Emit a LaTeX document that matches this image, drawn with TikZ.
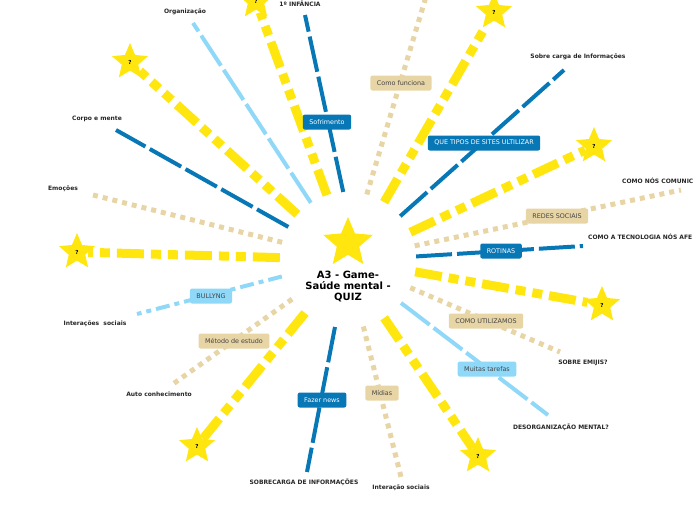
\documentclass[tikz,border=0pt]{standalone}
\usepackage{fontspec}
\setmainfont{DejaVu Sans}
\usetikzlibrary{shapes.geometric}

\begin{document}
\begin{tikzpicture}[x=1pt, y=-1pt,
    topic/.style={rounded corners=2pt, minimum height=15pt, inner xsep=6.5pt,
                  inner ysep=0pt, font=\fontsize{6.4}{7}\selectfont},
    dkbox/.style={topic, fill=dkblue, text=white},
    ltbox/.style={topic, fill=ltblue, text=txt},
    bgbox/.style={topic, fill=beige, text=txt},
    leaf/.style={font=\bfseries\fontsize{6}{7}\selectfont, text=black!85},
    qstar/.style={star, star points=5, star point ratio=2.2, fill=ylw,
                  minimum size=38pt, inner sep=0pt, font=\bfseries\fontsize{5.5}{6}\selectfont},
    dkline/.style={draw=dkblue, line width=4pt, dash pattern=on 36pt off 5pt},
    ltline/.style={draw=ltblue, line width=4pt, dash pattern=on 36pt off 5pt},
    ylline/.style={draw=ylw, line width=9pt, dash pattern=on 27pt off 7pt on 10pt off 7pt on 10pt off 7pt},
    bgline/.style={draw=beige, line width=5pt, dash pattern=on 5pt off 5pt},
]

% Colors
\definecolor{dkblue}{HTML}{0777B6}
\definecolor{ltblue}{HTML}{8FD8F8}
\definecolor{ylw}{HTML}{FFE60F}
\definecolor{beige}{HTML}{E8D5A6}
\definecolor{txt}{HTML}{444444}

\clip (0,0) rectangle (696,520);

% === Centre ===
\node[circle, minimum size=136pt, inner sep=0pt] (hub) at (348,260) {};
\node[star, star points=5, star point ratio=2.2, fill=ylw, minimum size=52pt,
      inner sep=0pt] (mainstar) at (348,243) {};
\node[font=\bfseries\fontsize{10}{11}\selectfont, align=center] (title) at (348,287)
     {A3 - Game-\\Saúde mental -\\QUIZ};

% === End points ===
\coordinate (e1)  at (305,15);
\coordinate (e3)  at (193,23);
\coordinate (e5)  at (116,130);
\coordinate (e6)  at (93,195);
\coordinate (e8)  at (137,314);
\coordinate (e9)  at (173,384);
\coordinate (e11) at (307,472);
\coordinate (e12) at (401,477);
\coordinate (e14) at (548,415);
\coordinate (e15) at (560,352);
\coordinate (e17) at (583,246);
\coordinate (e18) at (681,190);
\coordinate (e20) at (564,70);
\coordinate (e22) at (428,-10);

% === Stars ===
\node[qstar] (s2)  at (256,1)   {?};
\node[qstar] (s4)  at (130,62)  {?};
\node[qstar] (s7)  at (77,252)  {?};
\node[qstar] (s10) at (197,446) {?};
\node[qstar] (s13) at (478,456) {?};
\node[qstar] (s16) at (602,305) {?};
\node[qstar] (s19) at (594,146) {?};
\node[qstar] (s21) at (494,12)  {?};

% === Spokes ===
\draw[dkline] (hub.94)    -- (e1);
\draw[ylline] (hub.108.4) -- (s2);
\draw[ltline] (hub.123.7) -- (e3);
\draw[ylline] (hub.138.6) -- (s4);
\draw[dkline] (hub.151.9) -- (e5);
\draw[bgline] (hub.165.3) -- (e6);
\draw[ylline] (hub.178.3) -- (s7);
\draw[ltline, dash pattern=on 14pt off 5pt on 5pt off 5pt] (hub.194.7) -- (e8);
\draw[bgline] (hub.215.3) -- (e9);
\draw[ylline] (hub.231.7) -- (s10);
\draw[dkline] (hub.259.2) -- (e11);
\draw[bgline] (hub.283.4) -- (e12);
\draw[ylline] (hub.302.3) -- (s13);
\draw[ltline] (hub.321.5) -- (e14);
\draw[bgline] (hub.336)   -- (e15);
\draw[ylline] (hub.350.8) -- (s16);
\draw[dkline] (hub.3.3)   -- (e17);
\draw[bgline] (hub.12.8)  -- (e18);
\draw[ylline] (hub.24.3)  -- (s19);
\draw[dkline] (hub.40.9)  -- (e20);
\draw[ylline] (hub.58.4)  -- (s21);
\draw[bgline] (hub.74.2)  -- (e22);

% === Topics on the spokes ===
\node[dkbox] (sofrimento) at (327,122) {Sofrimento};
\node[bgbox] (funciona)   at (401,83)  {Como funciona};
\node[dkbox] (sites)      at (484,143) {QUE TIPOS DE SITES ULTILIZAR};
\node[bgbox] (redes)      at (557,216) {REDES SOCIAIS};
\node[dkbox] (rotinas)    at (501,251) {ROTINAS};
\node[ltbox] (bullyng)    at (211,296) {BULLYNG};
\node[bgbox] (metodo)     at (234,341) {Método de estudo};
\node[dkbox] (fakenews)   at (322,400) {Fazer news};
\node[bgbox] (midias)     at (382,393) {Mídias};
\node[ltbox] (tarefas)    at (487,369) {Muitas tarefas};
\node[bgbox] (utilizamos) at (486,321) {COMO UTILIZAMOS};

% === Leaf texts ===
\node[leaf] (infancia)   at (300,4)   {1º INFÂNCIA};
\node[leaf] (organiza)   at (185,12)  {Organização};
\node[leaf] (corpo)      at (97,119)  {Corpo e mente};
\node[leaf] (emocoes)    at (63,189)  {Emoções};
\node[leaf] (interacoes) at (95,324)  {Interações\ \ sociais};
\node[leaf] (auto)       at (159,394) {Auto conhecimento};
\node[leaf] (sobrecarga) at (304,482) {SOBRECARGA DE INFORMAÇÕES};
\node[leaf] (interacao)  at (401,488) {Interação sociais};
\node[leaf] (desorg)     at (561,427) {DESORGANIZAÇÃO MENTAL?};
\node[leaf] (emijis)     at (583,363) {SOBRE EMIJIS?};
\node[leaf, anchor=west, inner xsep=0pt] (afeta)   at (588,237) {COMO A TECNOLOGIA NÓS AFE};
\node[leaf, anchor=west, inner xsep=0pt] (comunic) at (622,181) {COMO NÓS COMUNIC};
\node[leaf] (infos)      at (578,57)  {Sobre carga de Informações};
\end{tikzpicture}
\end{document}
